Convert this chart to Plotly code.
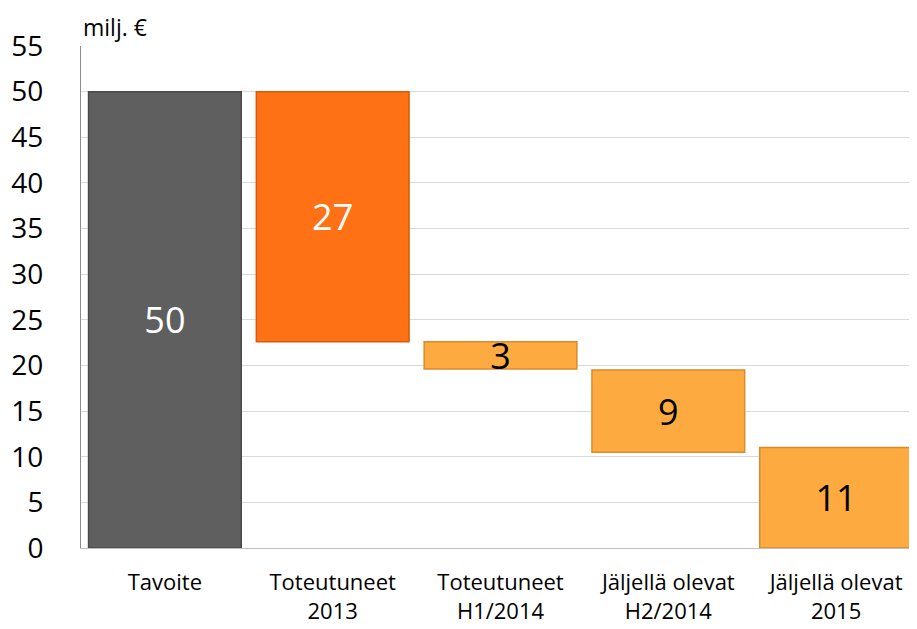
import plotly.graph_objects as go

categories = ["Tavoite", "Toteutuneet<br>2013", "Toteutuneet<br>H1/2014",
              "Jäljellä olevat<br>H2/2014", "Jäljellä olevat<br>2015"]
bar_bottom = [0, 22.6, 19.6, 10.5, 0]
bar_top = [50, 50, 22.6, 19.5, 11.0]
bar_labels = ["50", "27", "3", "9", "11"]
bar_colors = ["#5f5f5f", "#ff7115", "#fdab41", "#fdab41", "#fdab41"]
edge_colors = ["#4a4a4a", "#d95a08", "#d98a2a", "#d98a2a", "#d98a2a"]
label_colors = ["white", "white", "black", "black", "black"]
y_ticks = list(range(0, 60, 5))

heights = [t - b for t, b in zip(bar_top, bar_bottom)]

fig = go.Figure(go.Bar(
    x=categories, y=heights, base=bar_bottom,
    marker=dict(color=bar_colors, line=dict(color=edge_colors, width=1.5)),
    width=0.91,
    text=bar_labels, textposition="inside", insidetextanchor="middle",
    textfont=dict(size=36, color=label_colors, family="Open Sans"),
    textangle=0, constraintext="none",
    hoverinfo="skip",
))

fig.update_layout(
    width=917, height=629,
    margin=dict(l=73, r=5, t=38, b=89),
    plot_bgcolor="white", paper_bgcolor="white",
    showlegend=False,
    font=dict(family="Open Sans", color="black"),
    annotations=[dict(text="milj. €", xref="paper", yref="paper", x=0.0, y=1.0737,
                      xanchor="left", yanchor="top", showarrow=False,
                      font=dict(size=23, family="Open Sans", color="black"))],
)
fig.update_yaxes(range=[0, 55], tickvals=y_ticks, showgrid=True, gridcolor="#d9d9d9",
                 gridwidth=1, showline=True, linecolor="#8c8c8c", linewidth=1,
                 tickfont=dict(size=28, family="Open Sans"), ticks="", zeroline=False,
                 ticklabelstandoff=31, automargin=False)
fig.update_xaxes(showline=True, linecolor="#bfbfbf", linewidth=1,
                 tickfont=dict(size=22, family="Open Sans"), ticks="", ticklabelstandoff=15,
                 automargin=False)

fig.write_html("out.html")
